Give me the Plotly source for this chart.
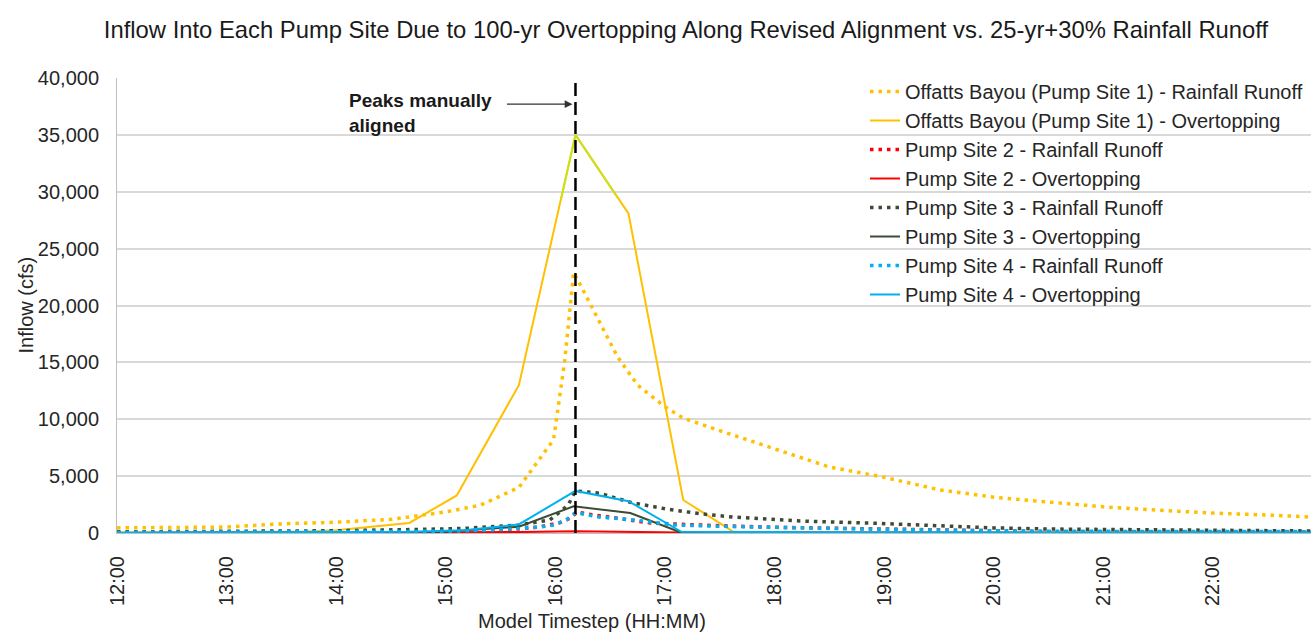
import plotly.graph_objects as go

DAY = "2020-01-01 "

# ---- data ----
off_rain_t = ["12:00","12:30","13:00","13:30","14:00","14:30","14:51","15:00","15:19","15:40","15:59","16:05","16:10","16:15","16:34","16:45","17:00","17:10","17:30","18:00","18:30","19:00","19:30","20:00","20:30","21:00","21:30","22:00","22:30","22:54"]
off_rain_v = [450,480,520,800,950,1200,1700,1850,2450,4000,8200,15000,22900,21400,15500,13000,11100,10100,9000,7400,5800,4900,3800,3150,2700,2300,2000,1750,1580,1400]

off_over_t = ["12:00","13:00","13:40","14:00","14:40","15:06","15:40","16:11","16:40","17:10","17:38","18:30","20:00","22:54"]
off_over_v = [50,60,120,250,880,3300,13000,35000,28100,2900,50,30,20,10]

off_peak_t = ["16:03","16:11","16:34"]
off_peak_v = [29300,35000,29500]

p2_rain_t = ["12:00","13:00","14:00","15:00","15:30","15:50","16:02","16:08","16:12","16:20","16:34","16:52","17:19","18:00","19:00","19:45","20:30","22:54"]
p2_rain_v = [10,20,40,100,250,500,880,1300,1850,1600,1300,880,700,500,350,200,120,80]

p2_over_t = ["12:00","15:00","15:40","16:11","16:40","17:10","18:00","22:54"]
p2_over_v = [0,20,80,150,100,40,20,10]

p3_rain_t = ["12:00","13:00","14:00","14:40","15:10","15:40","15:57","16:07","16:11","16:24","16:41","17:01","17:19","17:37","18:14","18:51","19:27","20:00","20:30","21:00","22:00","22:54"]
p3_rain_v = [100,120,200,300,400,700,1150,2450,3700,3500,2700,2100,1700,1400,1050,880,620,450,350,300,220,180]

p3_over_t = ["12:00","14:00","15:00","15:40","16:10","16:41","17:08","18:00","22:54"]
p3_over_v = [0,30,100,550,2350,1750,90,40,20]

p4_rain_t = ["12:00","13:00","14:00","15:00","15:30","15:50","15:59","16:06","16:11","16:24","16:43","17:05","17:40","18:30","19:30","20:30","22:54"]
p4_rain_v = [50,60,80,150,300,500,700,1150,1800,1400,1150,700,550,400,250,150,120]

p4_over_t = ["12:00","13:00","14:00","14:40","15:10","15:40","16:11","16:40","17:09","17:40","18:30","22:54"]
p4_over_v = [30,40,60,100,250,750,3700,2800,100,80,60,40]

peak_time = "16:11"
peak_line_top = 39600
arrow_y = 37700

x_start, x_end = "12:00", "22:53:40"
y_ticks = list(range(0, 40001, 5000))

C_OFF = "#FFC000"
C_LIME = "#C9E21E"
C_P2 = "#FF0000"
C_P3 = "#3D4A34"
C_P4 = "#00B0F0"

FONT = "Liberation Sans, Arial, sans-serif"
FS = 20

def tx(ts):
    return [DAY + t for t in ts]

DOT = "3.5px,5px"
series = [
    ("Offatts Bayou (Pump Site 1) - Rainfall Runoff", off_rain_t, off_rain_v, C_OFF, DOT, 3.5),
    ("Offatts Bayou (Pump Site 1) - Overtopping", off_over_t, off_over_v, C_OFF, "solid", 2),
    ("Pump Site 2 - Rainfall Runoff", p2_rain_t, p2_rain_v, C_P2, DOT, 3.5),
    ("Pump Site 2 - Overtopping", p2_over_t, p2_over_v, C_P2, "solid", 2),
    ("Pump Site 3 - Rainfall Runoff", p3_rain_t, p3_rain_v, C_P3, DOT, 3.5),
    ("Pump Site 3 - Overtopping", p3_over_t, p3_over_v, C_P3, "solid", 2),
    ("Pump Site 4 - Rainfall Runoff", p4_rain_t, p4_rain_v, C_P4, DOT, 3.5),
    ("Pump Site 4 - Overtopping", p4_over_t, p4_over_v, C_P4, "solid", 2),
]

fig = go.Figure()
for i, (name, ts, vs, col, dash, w) in enumerate(series):
    fig.add_trace(go.Scatter(
        x=tx(ts), y=vs, name=name, mode="lines",
        line=dict(color=col, width=w, dash=dash),
        legendgroup=f"g{i}",
    ))
    if i == 1:
        fig.add_trace(go.Scatter(
            x=tx(off_peak_t), y=off_peak_v, mode="lines", showlegend=False,
            line=dict(color=C_LIME, width=2), hoverinfo="skip",
        ))

# aligned-peak dashed line
fig.add_shape(type="line", xref="x", yref="y",
              x0=DAY + peak_time, x1=DAY + peak_time, y0=0, y1=peak_line_top,
              line=dict(color="black", width=2.5, dash="13px,6px"))

# arrow to the dashed line
fig.add_annotation(x=DAY + peak_time, y=arrow_y, xref="x", yref="y",
                   ax=-70, ay=0, axref="pixel", ayref="pixel",
                   text="", showarrow=True, arrowhead=2, arrowsize=1.3,
                   arrowwidth=1.2, arrowcolor="#333333", standoff=3)

fig.add_annotation(x=(347 - 117) / 1194, y=(533 - 88) / 455, xref="paper", yref="paper",
                   xanchor="left", yanchor="top", align="left", showarrow=False,
                   text="<b>Peaks manually<br>aligned</b>",
                   font=dict(family=FONT, size=19, color="#1a1a1a"))

# axis titles as annotations
fig.add_annotation(x=(25 - 117) / 1194, y=0.5, xref="paper", yref="paper",
                   text="Inflow (cfs)", textangle=-90, showarrow=False,
                   xanchor="center", yanchor="middle",
                   font=dict(family=FONT, size=FS, color="#262626"))
fig.add_annotation(x=(592 - 117) / 1194, y=(533 - 621) / 455, xref="paper", yref="paper",
                   text="Model Timestep (HH:MM)", showarrow=False,
                   xanchor="center", yanchor="middle",
                   font=dict(family=FONT, size=FS, color="#262626"))

fig.update_layout(
    width=1311, height=637,
    margin=dict(l=117, r=0, t=78, b=104, autoexpand=False),
    paper_bgcolor="white", plot_bgcolor="white",
    font=dict(family=FONT, size=FS, color="#262626"),
    title=dict(text="Inflow Into Each Pump Site Due to 100-yr Overtopping Along Revised Alignment vs. 25-yr+30% Rainfall Runoff",
               x=686 / 1311, xanchor="center", y=1 - 30 / 637, yanchor="middle",
               font=dict(family="Liberation Sans Narrow, Arial Narrow, " + FONT, size=23.8, color="#1a1a1a")),
    legend=dict(x=(865 - 117) / 1194, y=(533 - 72) / 455, xanchor="left", yanchor="top",
                bgcolor="rgba(255,255,255,0)", traceorder="grouped", tracegroupgap=0,
                font=dict(family=FONT, size=FS, color="#262626")),
    showlegend=True,
)
fig.update_xaxes(type="date", range=[DAY + x_start, DAY + x_end], automargin=False,
                 dtick=3600000, tick0=DAY + "12:00", tickformat="%H:%M",
                 tickangle=-90, showgrid=False, zeroline=False,
                 showline=True, linecolor="#BFBFBF", linewidth=1,
                 ticks="", ticklabelstandoff=14,
                 tickfont=dict(family=FONT, size=FS, color="#262626"))
fig.update_yaxes(range=[0, 40000], tickvals=y_ticks, tickformat=",d", automargin=False,
                 showgrid=True, gridcolor="#D9D9D9", gridwidth=1.5,
                 zeroline=False, showline=True, linecolor="#BFBFBF", linewidth=1,
                 ticks="", ticklabelstandoff=13,
                 tickfont=dict(family=FONT, size=FS, color="#262626"))

fig.write_html("out.html", config={"displayModeBar": False},
               post_script="document.body.style.margin='0';")
